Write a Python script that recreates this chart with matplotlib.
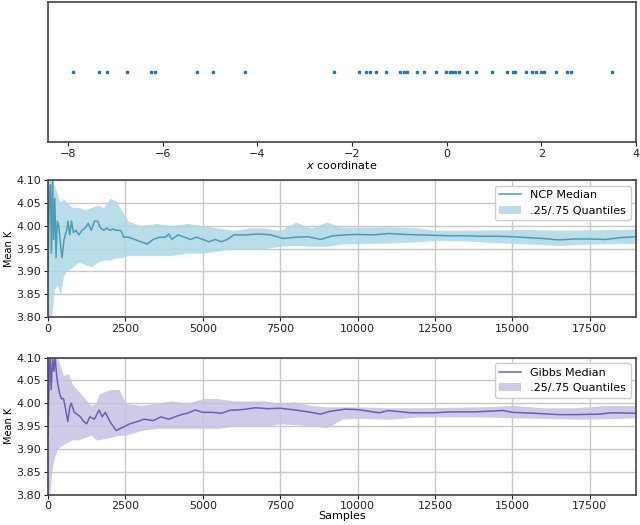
import numpy as np
import matplotlib
matplotlib.use("Agg")
import matplotlib.pyplot as plt

# x positions of the observed points (top strip)
obs_x = [-7.89, -7.34, -7.18, -6.75, -6.25, -6.16, -5.28, -4.93, -4.26, -2.39,
         -1.86, -1.70, -1.62, -1.49, -1.28, -0.98, -0.91, -0.84, -0.62, -0.48,
         -0.23, -0.01, 0.06, 0.11, 0.18, 0.25, 0.43, 0.62, 0.96, 1.28,
         1.40, 1.45, 1.68, 1.80, 1.89, 1.98, 2.06, 2.31, 2.54, 2.63, 3.48]

# NCP median trace
ncp_x = [0, 40, 80, 110, 150, 180, 220, 260, 300, 350, 400, 450, 520, 600, 650,
         700, 760, 820, 900, 1000, 1100, 1200, 1300, 1400, 1500, 1600, 1700,
         1800, 1900, 2000, 2100, 2200, 2350, 2450, 2600, 2800, 3000, 3200, 3400,
         3600, 3800, 3900, 4000, 4200, 4400, 4600, 4800, 5000, 5200, 5400, 5600,
         5800, 6000, 6400, 6800, 7200, 7600, 8000, 8400, 8800, 9200, 9600, 10000,
         10500, 11000, 11500, 12000, 12500, 13000, 13500, 14000, 14500, 15000,
         15500, 16000, 16500, 17000, 17500, 18000, 18500, 19000]
ncp_med = [3.90, 4.05, 4.09, 3.94, 4.10, 3.97, 4.06, 3.93, 4.01, 4.00, 3.96, 3.93,
           3.97, 3.99, 4.01, 3.98, 4.01, 3.985, 3.99, 3.98, 3.99, 3.995, 4.005,
           3.99, 4.01, 4.01, 3.995, 3.99, 3.995, 3.99, 3.993, 3.99, 3.99, 3.975,
           3.975, 3.97, 3.965, 3.96, 3.97, 3.975, 3.975, 3.982, 3.97, 3.98, 3.975,
           3.97, 3.975, 3.97, 3.965, 3.97, 3.965, 3.97, 3.98, 3.98, 3.982, 3.98,
           3.972, 3.975, 3.976, 3.970, 3.978, 3.980, 3.981, 3.980, 3.983, 3.981,
           3.980, 3.979, 3.978, 3.978, 3.977, 3.977, 3.976, 3.974, 3.972, 3.969,
           3.971, 3.971, 3.970, 3.974, 3.976]

# NCP .25/.75 quantile band
ncp_bx = [0, 50, 100, 150, 200, 300, 400, 500, 600, 800, 1000, 1200, 1400, 1600,
          1800, 2000, 2200, 2400, 2600, 3000, 3500, 4000, 4500, 5000, 5500, 6000,
          6500, 7000, 7500, 8000, 8500, 9000, 9500, 10000, 11000, 12000, 12500,
          13500, 14500, 15500, 16500, 17500, 18500, 19000]
ncp_lo = [3.78, 3.80, 3.80, 3.82, 3.86, 3.87, 3.85, 3.89, 3.90, 3.91, 3.92, 3.915,
          3.91, 3.92, 3.925, 3.925, 3.93, 3.93, 3.935, 3.935, 3.935, 3.935, 3.94,
          3.94, 3.945, 3.95, 3.95, 3.95, 3.955, 3.957, 3.955, 3.955, 3.960, 3.961,
          3.962, 3.965, 3.968, 3.967, 3.963, 3.960, 3.957, 3.960, 3.961, 3.961]
ncp_hi = [4.12, 4.12, 4.12, 4.10, 4.09, 4.07, 4.05, 4.06, 4.05, 4.04, 4.04, 4.035,
          4.04, 4.045, 4.04, 4.06, 4.055, 4.03, 4.01, 4.00, 4.005, 4.00, 4.005,
          4.00, 3.995, 3.99, 3.995, 3.995, 3.99, 4.008, 3.995, 4.008, 3.997, 3.997,
          3.998, 3.995, 3.99, 3.99, 3.991, 3.992, 3.99, 3.991, 3.992, 3.993]

# Gibbs median trace
gibbs_x = [0, 40, 70, 100, 150, 190, 230, 280, 320, 380, 430, 500, 560, 640, 700,
           750, 850, 950, 1050, 1150, 1250, 1350, 1500, 1650, 1750, 1850, 2000,
           2100, 2200, 2350, 2500, 2650, 2900, 3100, 3400, 3650, 3900, 4100, 4300,
           4500, 4750, 5000, 5300, 5600, 5900, 6100, 6400, 6700, 7100, 7500, 8000,
           8500, 8800, 9100, 9600, 10000, 10300, 10700, 11000, 11700, 12500, 13000,
           13800, 14700, 15000, 15700, 16500, 17000, 17800, 18200, 19000]
gibbs_med = [3.93, 4.08, 4.10, 4.03, 4.10, 4.07, 4.10, 4.06, 4.04, 4.02, 4.01, 4.01,
             3.99, 3.96, 3.99, 4.00, 3.98, 3.975, 3.97, 3.96, 3.955, 3.97, 3.965,
             3.985, 3.97, 3.98, 3.96, 3.95, 3.94, 3.945, 3.95, 3.955, 3.96, 3.965,
             3.962, 3.97, 3.965, 3.97, 3.975, 3.978, 3.985, 3.98, 3.98, 3.978, 3.985,
             3.985, 3.987, 3.99, 3.988, 3.989, 3.985, 3.98, 3.976, 3.982, 3.987,
             3.986, 3.983, 3.979, 3.984, 3.979, 3.979, 3.981, 3.981, 3.984, 3.980,
             3.978, 3.975, 3.975, 3.976, 3.979, 3.978]

# Gibbs .25/.75 quantile band
gibbs_bx = [0, 60, 120, 200, 300, 400, 500, 650, 800, 1000, 1200, 1400, 1550, 1650,
            2000, 2300, 2500, 3000, 3500, 4000, 4500, 5000, 5500, 6000, 7000, 7500,
            8000, 8500, 9000, 9500, 10000, 11000, 12000, 13000, 14000, 15000, 16000,
            17000, 18000, 19000]
gibbs_lo = [3.78, 3.80, 3.85, 3.88, 3.90, 3.905, 3.91, 3.915, 3.92, 3.92, 3.925,
            3.93, 3.92, 3.92, 3.925, 3.93, 3.93, 3.94, 3.945, 3.945, 3.945, 3.945,
            3.945, 3.95, 3.95, 3.955, 3.953, 3.951, 3.946, 3.965, 3.967, 3.965, 3.970,
            3.970, 3.970, 3.968, 3.967, 3.965, 3.966, 3.968]
gibbs_hi = [4.12, 4.12, 4.12, 4.12, 4.10, 4.08, 4.06, 4.065, 4.04, 4.025, 4.01,
            3.995, 4.00, 4.02, 4.03, 4.03, 4.00, 3.995, 4.00, 4.005, 4.00, 4.01,
            4.01, 4.005, 4.005, 4.00, 4.003, 3.995, 3.992, 3.992, 3.992, 3.99, 3.99,
            3.991, 3.992, 3.995, 3.99, 3.99, 3.995, 3.995]

plt.rcParams["font.size"] = 8

fig = plt.figure(figsize=(6.4, 5.25), dpi=100)

ax0 = fig.add_axes([0.075, 0.7295, 0.919, 0.267])
ax0.plot(obs_x, np.zeros(len(obs_x)), "s", color="#1f77b4", markersize=1.8, linestyle="none")
ax0.set_xlim(-8.42, 4.0)
ax0.set_ylim(-1, 1)
ax0.set_yticks([])
ax0.set_xlabel("$x$ coordinate", labelpad=0)

panels = [
    (ncp_x, ncp_med, ncp_bx, ncp_lo, ncp_hi, "#4d9bb5", "#add8e6", "NCP Median", 0.396),
    (gibbs_x, gibbs_med, gibbs_bx, gibbs_lo, gibbs_hi, "#6e5db5", "#c8c0e4", "Gibbs Median", 0.058),
]
axes = [ax0]
for mx, med, bx, lo, hi, lc, fc, lab, bottom in panels:
    ax = fig.add_axes([0.075, bottom, 0.919, 0.261])
    band = ax.fill_between(bx, lo, hi, color=fc, alpha=0.85, linewidth=0, label=".25/.75 Quantiles")
    line, = ax.plot(mx, med, color=lc, linewidth=1.1, label=lab)
    ax.set_xlim(0, 19000)
    ax.set_ylim(3.80, 4.10)
    ax.set_yticks(np.arange(3.80, 4.101, 0.05))
    ax.set_yticklabels(["%.2f" % v for v in np.arange(3.80, 4.101, 0.05)])
    ax.set_xticks(np.arange(0, 17501, 2500))
    ax.grid(True, color="#c8c8c8", linewidth=1.0)
    ax.set_axisbelow(True)
    ax.set_ylabel("Mean K", fontsize=7, labelpad=2)
    ax.legend([line, band], [lab, ".25/.75 Quantiles"], loc="upper right",
              fontsize=8, framealpha=1.0)
    axes.append(ax)
axes[-1].set_xlabel("Samples", labelpad=0)

for ax in axes:
    for s in ax.spines.values():
        s.set_color("#444444")
        s.set_linewidth(1.2)
    ax.tick_params(colors="#222222", length=3, pad=2)

fig.savefig("out.png", dpi=100)
